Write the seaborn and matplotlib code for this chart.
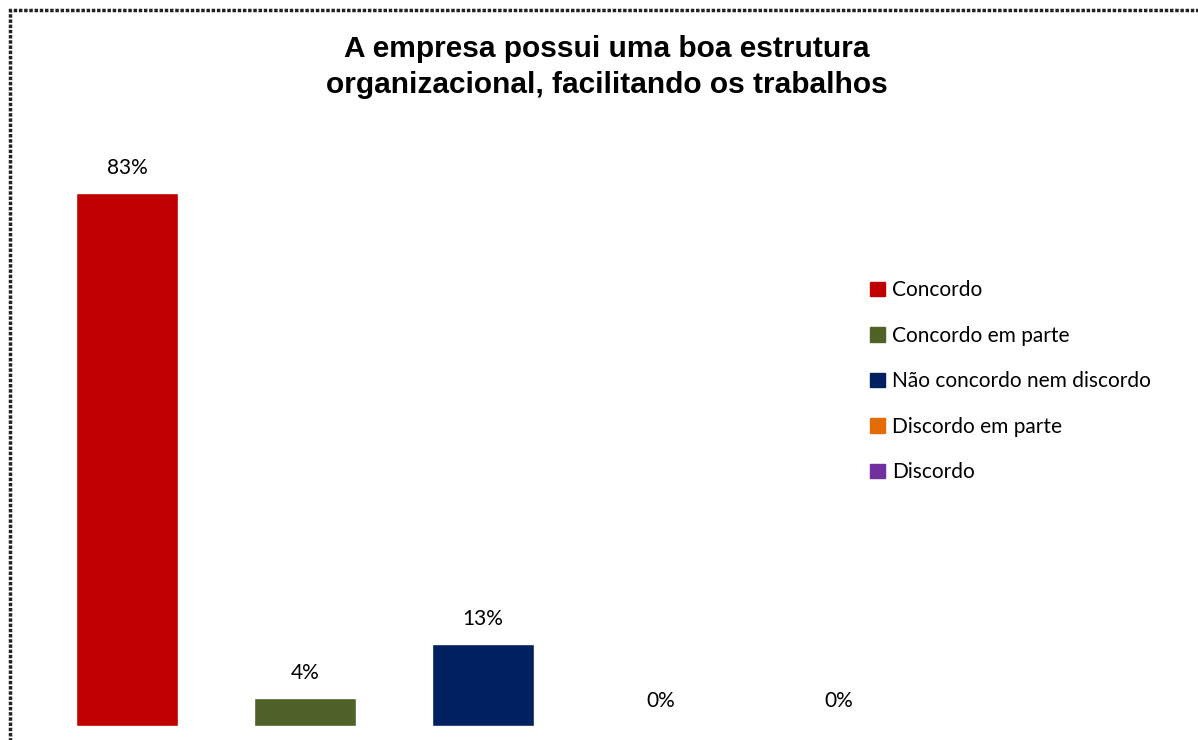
import matplotlib as mpl

mpl.use("Agg")
import matplotlib.pyplot as plt
import seaborn as sns
import pandas as pd

sns.set_style("white")
plt.rcParams["font.family"] = ["Lato", "DejaVu Sans"]

# survey answers (24 respondents, shares in %)
categorias = [
    "Concordo",
    "Concordo em parte",
    "Não concordo nem discordo",
    "Discordo em parte",
    "Discordo",
]
percentuais = [83.3, 4.4, 12.8, 0.0, 0.0]
rotulos = ["83%", "4%", "13%", "0%", "0%"]
cores = ["#C00000", "#4F6228", "#002060", "#E36C09", "#7030A0"]

df = pd.DataFrame({"cat": categorias, "pct": percentuais})

f = plt.figure(figsize=(11.98, 7.40), dpi=100)
ax = f.add_axes([38 / 1198, 14 / 740, 890 / 1198, 576 / 740])

sns.barplot(
    data=df, x="cat", y="pct", hue="cat", palette=cores,
    width=0.575, saturation=1, legend=False, ax=ax,
)
ax.set(ylim=(0, 90), xlim=(-0.5, 4.5), xlabel="", ylabel="", xticks=[], yticks=[])
sns.despine(ax=ax, left=True, bottom=True)

for i, (v, lab) in enumerate(zip(percentuais, rotulos)):
    ax.annotate(lab, (i, v), xytext=(0, 11), textcoords="offset points",
                ha="center", va="bottom", fontsize=15, color="black")

# legend
handles = [mpl.patches.Patch(color=c) for c in cores]
f.legend(
    handles, categorias, loc="upper left", bbox_to_anchor=(860 / 1198, 1 - 270 / 740),
    frameon=False, fontsize=15, handlelength=0.7, handleheight=0.7,
    handletextpad=0.35, labelspacing=1.22, borderpad=0, labelcolor="black",
)

f.text(607 / 1198, 1 - 67 / 740,
       "A empresa possui uma boa estrutura\norganizacional, facilitando os trabalhos",
       ha="center", va="center", fontsize=21.5, fontweight="bold", color="black",
       family="Liberation Sans", linespacing=1.4)

# dotted chart frame
frame = mpl.patches.Rectangle(
    (10 / 1198, -0.1), 1.2, 1 - 10 / 740 + 0.1, transform=f.transFigure,
    fill=False, edgecolor="#222222", linewidth=2.5, linestyle=(0, (1, 0.5)),
)
f.patches.append(frame)

f.savefig("out.png", dpi=100)
